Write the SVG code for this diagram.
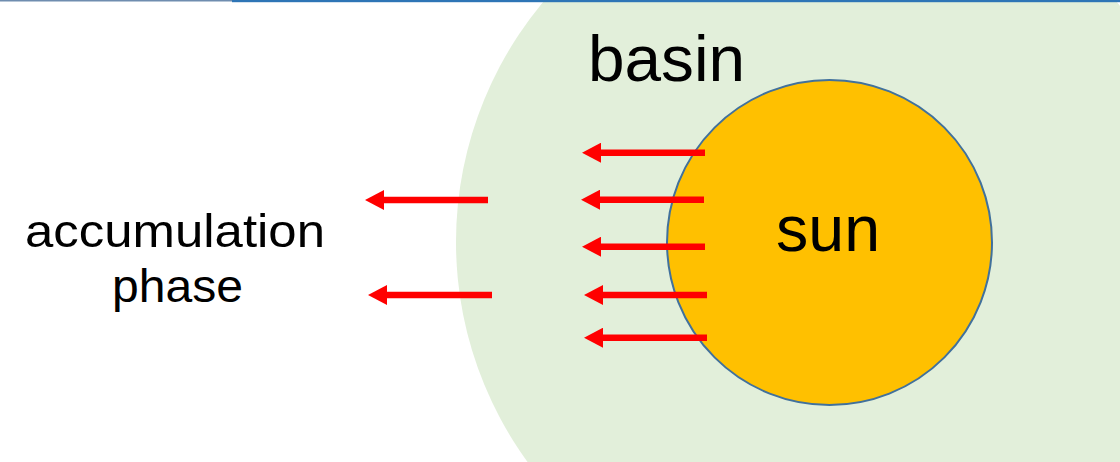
<svg xmlns="http://www.w3.org/2000/svg" width="1120" height="462" viewBox="0 0 1120 462">
  <style>
    .lbl { font-family: "Liberation Sans", Arial, sans-serif; fill: #000000; }
    .arr { stroke: #FF0000; stroke-width: 6.5; fill: none; marker-end: url(#head); }
  </style>
  <defs>
    <marker id="head" viewBox="0 0 19 20" refX="0" refY="10" markerWidth="19" markerHeight="20" markerUnits="userSpaceOnUse" orient="auto">
      <path d="M0,0 L19,10 L0,20 Z" fill="#FF0000"/>
    </marker>
  </defs>
  <rect x="0" y="0" width="1120" height="462" fill="#FFFFFF"/>
  <g id="basin">
    <circle cx="830" cy="242" r="374" fill="#E2EFDA"/>
    <text class="lbl" x="588" y="81" font-size="64" textLength="157" lengthAdjust="spacingAndGlyphs">basin</text>
  </g>
  <g id="topbar">
    <rect x="0" y="0" width="232" height="1.5" fill="#6F8DAF"/>
    <rect x="232" y="0" width="888" height="2.2" fill="#2E75B6"/>
  </g>
  <g id="sun">
    <circle cx="829.5" cy="242.5" r="162.5" fill="#FFC000" stroke="#41719C" stroke-width="2"/>
    <text class="lbl" x="776" y="251" font-size="64" textLength="104" lengthAdjust="spacingAndGlyphs">sun</text>
  </g>
  <g id="accumulation-phase">
    <text class="lbl" x="25" y="247" font-size="46" textLength="300" lengthAdjust="spacingAndGlyphs">accumulation</text>
    <text class="lbl" x="112" y="302" font-size="46" textLength="131" lengthAdjust="spacingAndGlyphs">phase</text>
  </g>
  <g id="connectors">
    <line class="arr" x1="705" y1="152.7" x2="601" y2="152.7"/>
    <line class="arr" x1="704" y1="199.7" x2="600" y2="199.7"/>
    <line class="arr" x1="705" y1="246.7" x2="601" y2="246.7"/>
    <line class="arr" x1="707" y1="295" x2="603" y2="295"/>
    <line class="arr" x1="707" y1="337.7" x2="603" y2="337.7"/>
    <line class="arr" x1="488" y1="200" x2="384" y2="200"/>
    <line class="arr" x1="492" y1="295" x2="387" y2="295"/>
  </g>
</svg>
